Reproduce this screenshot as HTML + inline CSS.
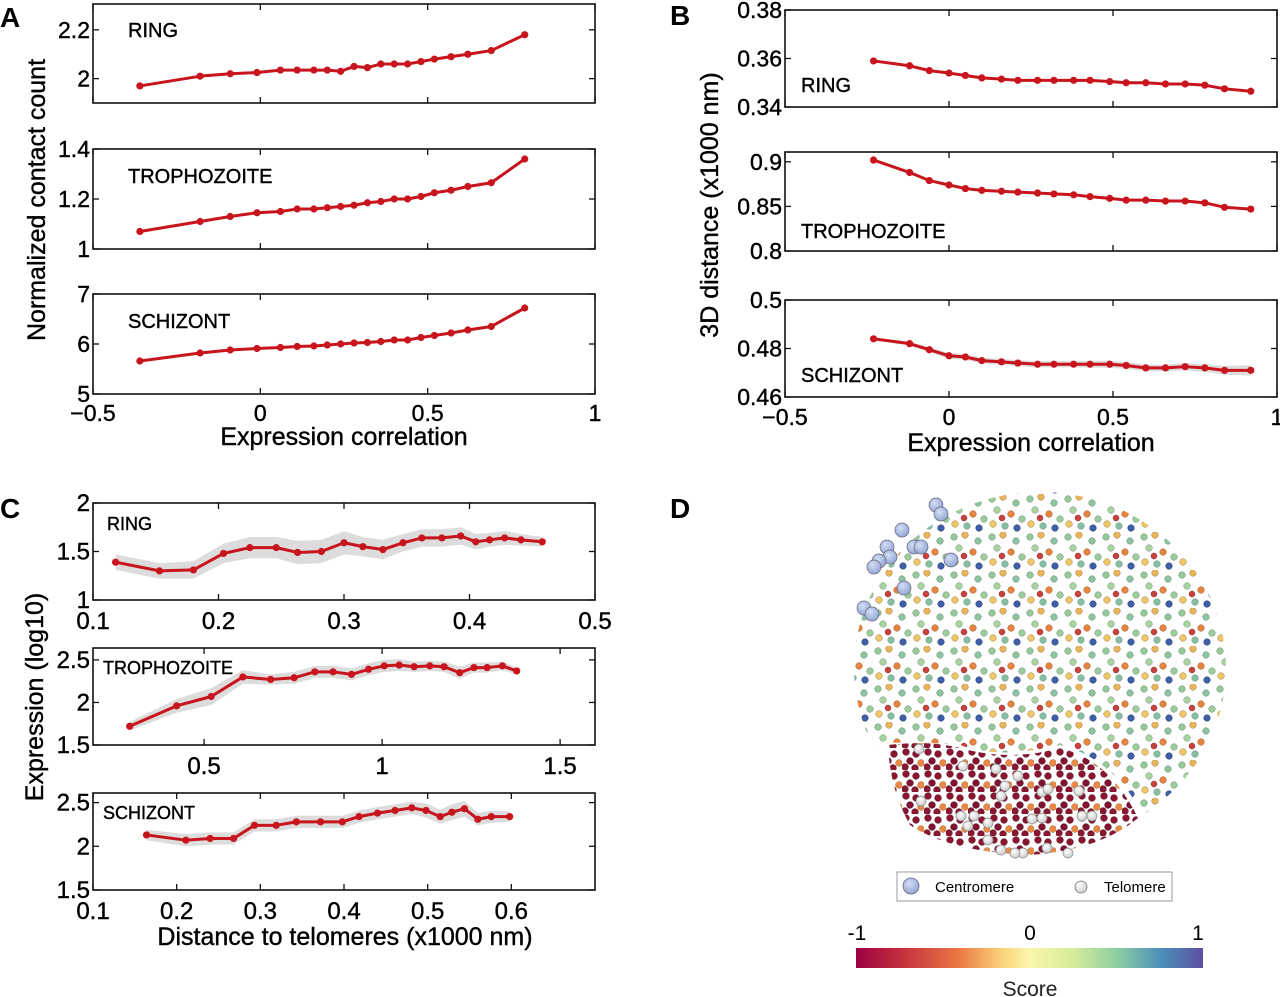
<!DOCTYPE html>
<html><head><meta charset="utf-8">
<style>
html,body{margin:0;padding:0;background:#fff;}
svg{display:block;font-family:"Liberation Sans",Arial,sans-serif;}
</style></head>
<body>
<svg id="fig" width="1280" height="997" viewBox="0 0 1280 997" xmlns="http://www.w3.org/2000/svg">
<defs>
  <pattern id="mixDots" width="38" height="38" patternUnits="userSpaceOnUse">
    <circle cx="4" cy="5" r="3.3" fill="#96c99a" stroke="#6a8a70" stroke-width="0.5"/>
    <circle cx="15" cy="3" r="3.3" fill="#e9b45a" stroke="#9a7a40" stroke-width="0.5"/>
    <circle cx="28" cy="9" r="3.3" fill="#8cc4a0" stroke="#6a8a70" stroke-width="0.5"/>
    <circle cx="9" cy="16" r="3.3" fill="#a9d3a1" stroke="#6a8a70" stroke-width="0.5"/>
    <circle cx="23" cy="20" r="3.3" fill="#e8843e" stroke="#9a5a30" stroke-width="0.5"/>
    <circle cx="34" cy="25" r="3.3" fill="#9ccc9c" stroke="#6a8a70" stroke-width="0.5"/>
    <circle cx="5" cy="30" r="3.3" fill="#f0c86a" stroke="#9a7a40" stroke-width="0.5"/>
    <circle cx="17" cy="32" r="3.3" fill="#86c0a4" stroke="#6a8a70" stroke-width="0.5"/>
    <circle cx="29" cy="34" r="3.3" fill="#3f5fa8" stroke="#2a3a70" stroke-width="0.5"/>
    <circle cx="14" cy="24" r="3.0" fill="#c9413a" stroke="#802a2a" stroke-width="0.5"/>
  </pattern>
  <pattern id="redDots" width="22" height="22" patternUnits="userSpaceOnUse">
    <circle cx="4" cy="4" r="3.4" fill="#8a1630" stroke="#5a1020" stroke-width="0.5"/>
    <circle cx="14" cy="6" r="3.4" fill="#8a1630" stroke="#5a1020" stroke-width="0.5"/>
    <circle cx="8" cy="13" r="3.4" fill="#7e1230" stroke="#5a1020" stroke-width="0.5"/>
    <circle cx="19" cy="15" r="3.4" fill="#e98a44" stroke="#9a5a30" stroke-width="0.5"/>
    <circle cx="3" cy="19" r="3.4" fill="#8a1630" stroke="#5a1020" stroke-width="0.5"/>
    <circle cx="13" cy="20" r="3.4" fill="#8a1630" stroke="#5a1020" stroke-width="0.5"/>
  </pattern>
  <clipPath id="sphereClip"><ellipse cx="1040" cy="668" rx="186" ry="176"/></clipPath>
  <linearGradient id="cbar" x1="0" x2="1" y1="0" y2="0">
    <stop offset="0" stop-color="#9e0142"/>
    <stop offset="0.15" stop-color="#c8373f"/>
    <stop offset="0.3" stop-color="#ec7a45"/>
    <stop offset="0.42" stop-color="#f9d27a"/>
    <stop offset="0.5" stop-color="#fbf6ad"/>
    <stop offset="0.62" stop-color="#d8ed9a"/>
    <stop offset="0.75" stop-color="#8fcfa1"/>
    <stop offset="0.88" stop-color="#4a8fba"/>
    <stop offset="1" stop-color="#5e4fa2"/>
  </linearGradient>
  <radialGradient id="centG" cx="0.4" cy="0.35" r="0.7">
    <stop offset="0" stop-color="#d4def5"/><stop offset="1" stop-color="#8ea2d2"/>
  </radialGradient>
  <radialGradient id="telG" cx="0.4" cy="0.35" r="0.7">
    <stop offset="0" stop-color="#ffffff"/><stop offset="1" stop-color="#c8c8c8"/>
  </radialGradient>
</defs>
<g id="panels"></g>
<text x="0" y="27" font-size="28" font-weight="bold">A</text>
<text x="670" y="25" font-size="28" font-weight="bold">B</text>
<text x="0" y="518" font-size="28" font-weight="bold">C</text>
<text x="670" y="518" font-size="28" font-weight="bold">D</text>

<g>
  <g clip-path="url(#sphereClip)">
    <path d="M850 490 H1230 V800 L1150 830 Q1120 760 1060 745 Q1000 760 960 745 Q900 740 870 745 L850 745 Z" fill="url(#mixDots)"/>
  </g>
  <path d="M888 745 Q930 740 960 748 Q1010 762 1060 748 Q1110 760 1138 818 Q1100 850 1030 855 Q950 852 910 825 Q890 790 888 745 Z" fill="url(#redDots)"/>
  <g id="centromeres"></g>
  <g id="telomeres"></g>
</g>
<g>
  <rect x="897" y="872" width="275" height="29" fill="#fff" stroke="#999" stroke-width="1"/>
  <circle cx="911" cy="886" r="8" fill="url(#centG)" stroke="#667" stroke-width="0.8"/>
  <text x="935" y="892" font-size="15">Centromere</text>
  <circle cx="1081" cy="887" r="6" fill="url(#telG)" stroke="#777" stroke-width="0.8"/>
  <text x="1104" y="892" font-size="15">Telomere</text>
</g>
<g>
  <rect x="856" y="948" width="347" height="20" fill="url(#cbar)"/>
  <text x="857" y="940" font-size="21" text-anchor="middle">-1</text>
  <text x="1030" y="940" font-size="21" text-anchor="middle">0</text>
  <text x="1198" y="940" font-size="21" text-anchor="middle">1</text>
  <text x="1030" y="996" font-size="21" text-anchor="middle" fill="#222">Score</text>
</g>
</svg>
<script>
// ---------- Panel A data ----------
const aX = [-0.36,-0.18,-0.09,-0.01,0.06,0.11,0.16,0.2,0.24,0.28,0.32,0.36,0.4,0.44,0.48,0.52,0.57,0.62,0.69,0.79];
const aRing = [1.97,2.01,2.02,2.025,2.035,2.035,2.035,2.035,2.03,2.05,2.045,2.06,2.06,2.06,2.07,2.08,2.09,2.10,2.115,2.18];
const aTroph = [1.07,1.11,1.13,1.145,1.15,1.16,1.16,1.165,1.17,1.175,1.185,1.19,1.20,1.20,1.21,1.225,1.235,1.25,1.265,1.36];
const aSchiz = [5.66,5.82,5.88,5.91,5.93,5.95,5.96,5.98,6.0,6.02,6.03,6.05,6.08,6.08,6.13,6.17,6.22,6.28,6.35,6.72];
const aXTicks = [-0.5,0,0.5,1];
const aXTickLabels = ["\u22120.5","0","0.5","1"];
// ---------- Panel B data ----------
const bX = [-0.23,-0.12,-0.06,0,0.05,0.1,0.16,0.21,0.27,0.32,0.38,0.43,0.49,0.54,0.6,0.66,0.72,0.78,0.84,0.92];
const bRing = [0.359,0.357,0.355,0.354,0.353,0.352,0.3515,0.351,0.351,0.351,0.351,0.351,0.3505,0.350,0.350,0.3495,0.3495,0.349,0.3475,0.3465];
const bTroph = [0.902,0.888,0.879,0.874,0.870,0.868,0.867,0.866,0.865,0.864,0.863,0.861,0.859,0.857,0.857,0.856,0.856,0.854,0.849,0.847];
const bSchiz = [0.484,0.482,0.4795,0.477,0.4765,0.475,0.4745,0.474,0.4735,0.4735,0.4735,0.4735,0.4735,0.473,0.472,0.472,0.4725,0.472,0.471,0.471];
const bSchizErr = [0.0005,0.0008,0.001,0.0012,0.0012,0.0012,0.0012,0.0012,0.0013,0.0013,0.0013,0.0014,0.0015,0.0014,0.0014,0.0014,0.0015,0.0016,0.0018,0.0022];
// ---------- Panel C data ----------
const cRingX = [0.118,0.153,0.18,0.204,0.225,0.246,0.263,0.282,0.3,0.315,0.331,0.347,0.362,0.378,0.393,0.405,0.416,0.428,0.441,0.458];
const cRing = [1.39,1.30,1.31,1.48,1.54,1.54,1.49,1.50,1.59,1.55,1.52,1.59,1.64,1.64,1.66,1.60,1.62,1.64,1.62,1.60];
const cRingErr = [0.08,0.08,0.09,0.1,0.11,0.11,0.12,0.12,0.12,0.1,0.1,0.09,0.09,0.09,0.09,0.08,0.07,0.07,0.06,0.05];
const cTrophX = [0.291,0.423,0.52,0.609,0.687,0.753,0.811,0.862,0.914,0.962,1.006,1.048,1.09,1.134,1.174,1.218,1.258,1.295,1.338,1.378];
const cTroph = [1.72,1.96,2.07,2.30,2.27,2.29,2.36,2.36,2.33,2.39,2.43,2.44,2.42,2.43,2.42,2.35,2.41,2.41,2.43,2.37];
const cTrophErr = [0.05,0.08,0.1,0.08,0.06,0.07,0.07,0.07,0.07,0.07,0.07,0.07,0.06,0.06,0.06,0.07,0.06,0.06,0.05,0.04];
const cSchizX = [0.164,0.211,0.24,0.268,0.293,0.319,0.343,0.372,0.398,0.418,0.44,0.461,0.481,0.498,0.515,0.529,0.544,0.56,0.576,0.598];
const cSchiz = [2.13,2.07,2.09,2.09,2.24,2.24,2.28,2.28,2.28,2.34,2.38,2.41,2.44,2.41,2.34,2.39,2.43,2.31,2.34,2.34];
const cSchizErr = [0.06,0.07,0.07,0.07,0.07,0.07,0.07,0.07,0.07,0.07,0.07,0.07,0.07,0.08,0.08,0.09,0.09,0.07,0.07,0.06];
// ---------- Panel D data ----------
const centX = [936,941,902,887,890,914,921,879,874,951,904,864,872];
const centY = [505,514,530,547,557,547,547,561,567,560,588,608,614];
const telX = [919,963,996,1018,1005,921,1001,1042,1048,1079,961,974,968,988,1032,1042,1082,1092,988,1001,1023,1047,1068,1015];
const telY = [749,766,769,776,786,801,796,792,789,791,816,816,826,823,819,818,816,816,840,850,853,848,853,853];

const NS = "http://www.w3.org/2000/svg";
const root = document.getElementById('panels');
function mk(tag, attrs, parent){
  const e = document.createElementNS(NS, tag);
  for (const k in attrs) e.setAttribute(k, attrs[k]);
  (parent||root).appendChild(e);
  return e;
}
function fmt(v){ return String(v); }

function panel(o){
  const g = mk('g', {});
  
  
  const sx = v => o.x0 + (v - o.xd[0]) / (o.xd[1] - o.xd[0]) * (o.x1 - o.x0);
  const sy = v => o.y1 - (v - o.yd[0]) / (o.yd[1] - o.yd[0]) * (o.y1 - o.y0);
  if (o.err){
    let up = o.xs.map((x,i)=>sx(x)+','+sy(o.ys[i]+o.err[i]));
    let lo = o.xs.map((x,i)=>sx(x)+','+sy(o.ys[i]-o.err[i])).reverse();
    const band = mk('polygon', {points: up.concat(lo).join(' '), fill:'#dcdcdc'}, g);
    
    
  }
  const line = mk('polyline', {points: o.xs.map((x,i)=>sx(x)+','+sy(o.ys[i])).join(' '), fill:'none', stroke:'#c8141c', 'stroke-width':3, 'stroke-linejoin':'round'}, g);
  
  
  o.xs.forEach((x,i)=>{
    const c = mk('circle', {cx:sx(x), cy:sy(o.ys[i]), r:3.6, fill:'#c8141c'}, g);
    
    
  });
  const box = mk('rect', {x:o.x0, y:o.y0, width:o.x1-o.x0, height:o.y1-o.y0, fill:'none', stroke:'#111', 'stroke-width':1.6}, g);
  
  
  o.xt.forEach((t,i)=>{
    const X = sx(t);
    mk('line', {x1:X, x2:X, y1:o.y1, y2:o.y1-6, stroke:'#111', 'stroke-width':1.3}, g);
    mk('line', {x1:X, x2:X, y1:o.y0, y2:o.y0+6, stroke:'#111', 'stroke-width':1.3}, g);
    if (o.xl){
      const t2 = mk('text', {x:X, y:o.y1+o.xlOff, 'font-size':o.fs, 'text-anchor':'middle', stroke:'#000', 'stroke-width':0.4}, g);
      t2.textContent = o.xl[i];
      
      
    }
  });
  o.yt.forEach(t=>{
    const Y = sy(t);
    mk('line', {x1:o.x0, x2:o.x0+6, y1:Y, y2:Y, stroke:'#111', 'stroke-width':1.3}, g);
    mk('line', {x1:o.x1, x2:o.x1-6, y1:Y, y2:Y, stroke:'#111', 'stroke-width':1.3}, g);
    const t2 = mk('text', {x:o.x0-3, y:Y+8, 'font-size':o.fs, 'text-anchor':'end', stroke:'#000', 'stroke-width':0.4}, g);
    t2.textContent = fmt(t);
    
    
  });
  const lab = mk('text', {x:o.lx, y:o.ly, 'font-size':o.lfs, stroke:'#000', 'stroke-width':0.4}, g);
  lab.textContent = o.label;
  
  
}

panel({name:'panel-a-ring', x0:93,x1:595,y0:4,y1:103, xd:[-0.5,1], yd:[1.9,2.306], xs:aX, ys:aRing, xt:aXTicks, yt:[2,2.2], fs:23, label:'RING', lx:128, ly:37, lfs:20});
panel({name:'panel-a-trophozoite', x0:93,x1:595,y0:149,y1:249, xd:[-0.5,1], yd:[1,1.4], xs:aX, ys:aTroph, xt:aXTicks, yt:[1,1.2,1.4], fs:23, label:'TROPHOZOITE', lx:128, ly:183, lfs:20});
panel({name:'panel-a-schizont', x0:93,x1:595,y0:294,y1:394, xd:[-0.5,1], yd:[5,7], xs:aX, ys:aSchiz, xt:aXTicks, xl:aXTickLabels, xlOff:27, yt:[5,6,7], fs:23, label:'SCHIZONT', lx:128, ly:328, lfs:20});
panel({name:'panel-b-ring', x0:785,x1:1277,y0:10,y1:107, xd:[-0.5,1], yd:[0.34,0.38], xs:bX, ys:bRing, xt:aXTicks, yt:[0.34,0.36,0.38], fs:23, label:'RING', lx:801, ly:92, lfs:20});
panel({name:'panel-b-trophozoite', x0:785,x1:1277,y0:152,y1:251, xd:[-0.5,1], yd:[0.8,0.911], xs:bX, ys:bTroph, xt:aXTicks, yt:[0.8,0.85,0.9], fs:23, label:'TROPHOZOITE', lx:801, ly:238, lfs:20});
panel({name:'panel-b-schizont', x0:785,x1:1277,y0:300,y1:397, xd:[-0.5,1], yd:[0.46,0.5], xs:bX, ys:bSchiz, err:bSchizErr, xt:aXTicks, xl:aXTickLabels, xlOff:28, yt:[0.46,0.48,0.5], fs:23, label:'SCHIZONT', lx:801, ly:382, lfs:20});
panel({name:'panel-c-ring', x0:93,x1:595,y0:503,y1:600, xd:[0.1,0.5], yd:[1,2], xs:cRingX, ys:cRing, err:cRingErr, xt:[0.1,0.2,0.3,0.4,0.5], xl:['0.1','0.2','0.3','0.4','0.5'], xlOff:29, yt:[1,1.5,2], fs:24, label:'RING', lx:107, ly:530, lfs:18});
panel({name:'panel-c-trophozoite', x0:93,x1:595,y0:648,y1:745, xd:[0.188,1.598], yd:[1.5,2.64], xs:cTrophX, ys:cTroph, err:cTrophErr, xt:[0.5,1,1.5], xl:['0.5','1','1.5'], xlOff:29, yt:[1.5,2,2.5], fs:24, label:'TROPHOZOITE', lx:103, ly:674, lfs:18});
panel({name:'panel-c-schizont', x0:93,x1:595,y0:793,y1:890, xd:[0.1,0.7], yd:[1.5,2.61], xs:cSchizX, ys:cSchiz, err:cSchizErr, xt:[0.1,0.2,0.3,0.4,0.5,0.6], xl:['0.1','0.2','0.3','0.4','0.5','0.6'], xlOff:29, yt:[1.5,2,2.5], fs:24, label:'SCHIZONT', lx:103, ly:819, lfs:18});

function title(txt, x, y, rot, name, fs){
  const t = mk('text', {x:x, y:y, 'font-size':fs, 'text-anchor':'middle', stroke:'#000', 'stroke-width':0.4, transform: rot ? 'rotate(-90 '+x+' '+y+')' : ''});
  t.textContent = txt;
  
  
}
title('Expression correlation', 344, 445, false, 'x-axis-title-a', 25);
title('Normalized contact count', 45, 200, true, 'y-axis-title-a', 25);
title('Expression correlation', 1031, 451, false, 'x-axis-title-b', 25);
title('3D distance (x1000 nm)', 718, 205, true, 'y-axis-title-b', 25);
title('Distance to telomeres (x1000 nm)', 345, 945, false, 'x-axis-title-c', 25);
title('Expression (log10)', 43, 697, true, 'y-axis-title-c', 25);

const cg = document.getElementById('centromeres');
centX.forEach((x,i)=>{
  const c = mk('circle', {cx:x, cy:centY[i], r:7, fill:'url(#centG)', stroke:'#667', 'stroke-width':0.7}, cg);
  
  
});
const tg = document.getElementById('telomeres');
telX.forEach((x,i)=>{
  const c = mk('circle', {cx:x, cy:telY[i], r:5, fill:'url(#telG)', stroke:'#888', 'stroke-width':0.7}, tg);
  
  
});
</script>
</body></html>
